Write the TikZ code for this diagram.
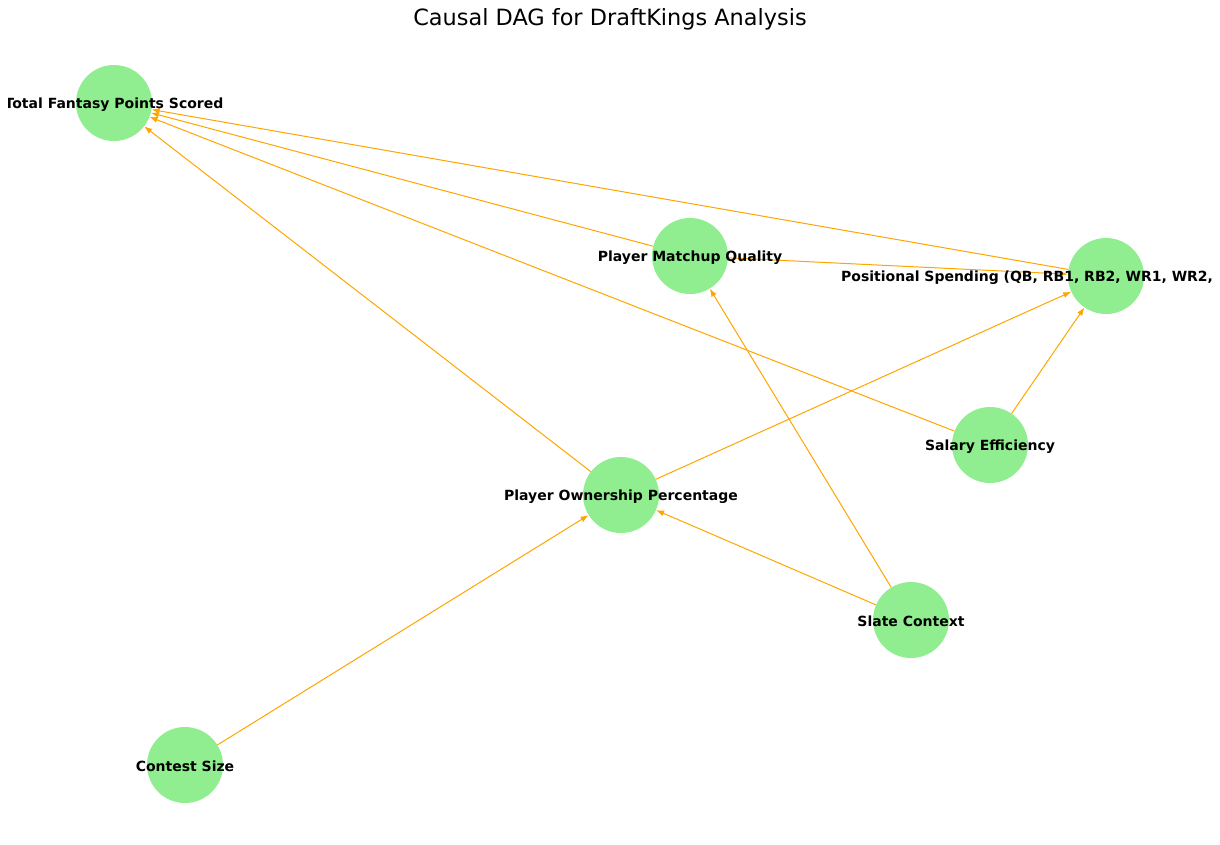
\documentclass[tikz,border=0pt]{standalone}
\usepackage{fontspec}
\setmainfont{DejaVu Sans}
\usetikzlibrary{arrows.meta}
\definecolor{nodegreen}{HTML}{90EE90}
\definecolor{edgeorange}{HTML}{FFA500}
\tikzset{
    dagnode/.style={circle, fill=nodegreen, minimum size=76pt, inner sep=0pt},
    daglabel/.style={font=\fontsize{14}{15}\selectfont\bfseries, inner sep=0pt, yshift=-1.5pt},
    dagedge/.style={draw=edgeorange, line width=1pt, -{Latex[length=8pt,width=6pt]}}
}
\begin{document}
\begin{tikzpicture}[x=1pt, y=-1pt]
    \useasboundingbox (0,0) rectangle (1220,844);

    \node at (610,19) {\fontsize{22.4}{25}\selectfont Causal DAG for DraftKings Analysis};

    \node[dagnode] (total) at (114,103) {};
    \node[dagnode] (matchup) at (690,256) {};
    \node[dagnode] (spending) at (1106,276) {};
    \node[dagnode] (salary) at (990,445) {};
    \node[dagnode] (ownership) at (621,495) {};
    \node[dagnode] (slate) at (911,620) {};
    \node[dagnode] (contest) at (185,765) {};

    \foreach \a/\b in {contest/ownership, slate/ownership, slate/matchup,
        ownership/total, ownership/spending, salary/spending, salary/total,
        matchup/total, matchup/spending, spending/total} {
        \draw[dagedge] (\a) -- (\b);
    }

    \begin{scope}
        \clip (8,0) rectangle (1212,844);
        \node[daglabel] (totallabel) at (total) {Total Fantasy Points Scored};
        \node[daglabel] (matchuplabel) at (matchup) {Player Matchup Quality};
        \node[daglabel, anchor=west] (spendinglabel) at ([xshift=-265pt]spending) {Positional Spending (QB, RB1, RB2, WR1, WR2,};
        \node[daglabel] (salarylabel) at (salary) {Salary Efficiency};
        \node[daglabel] (ownershiplabel) at (ownership) {Player Ownership Percentage};
        \node[daglabel] (slatelabel) at (slate) {Slate Context};
        \node[daglabel] (contestlabel) at (contest) {Contest Size};
    \end{scope}
\end{tikzpicture}
\end{document}
